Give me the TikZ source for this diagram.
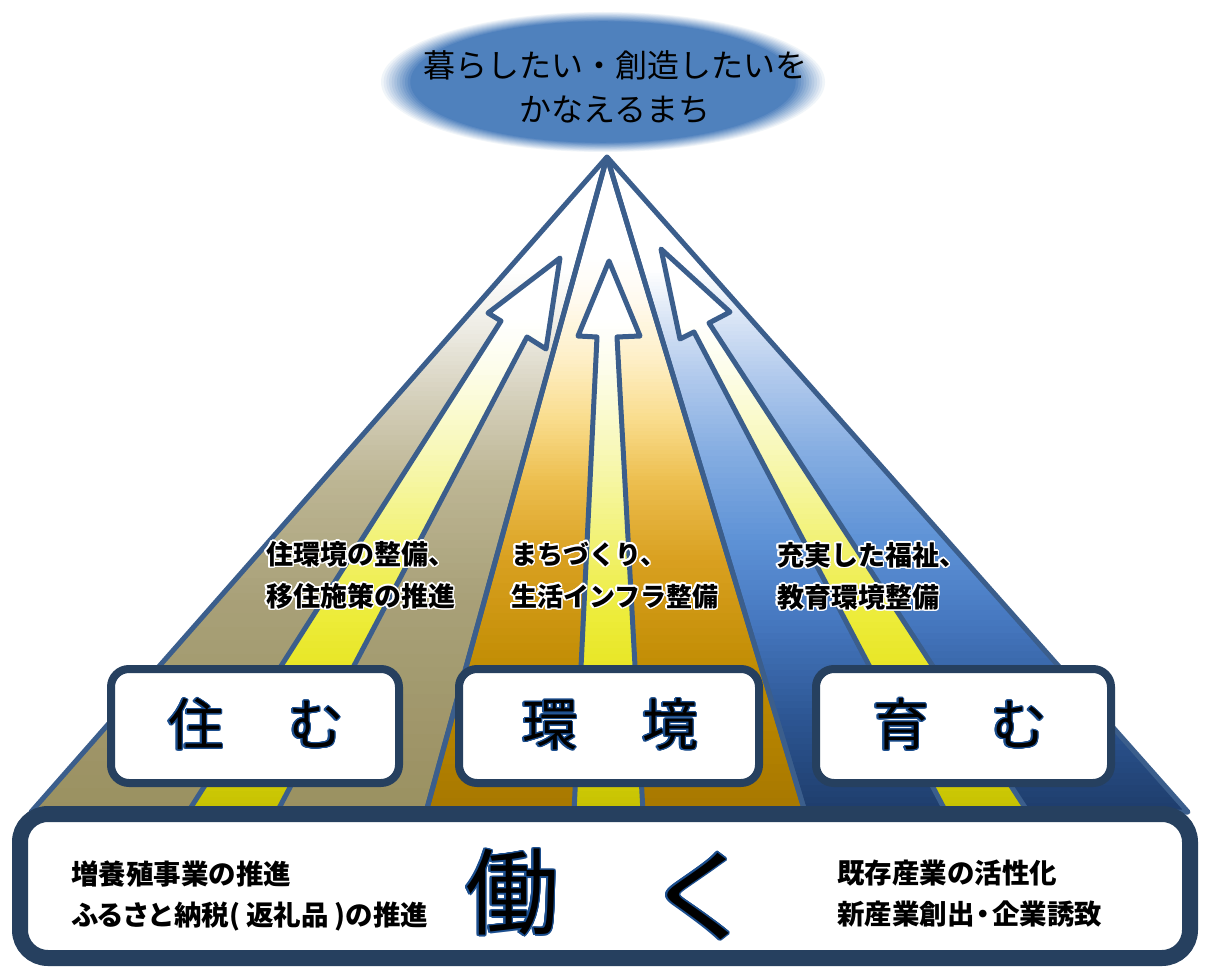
\documentclass[tikz,border=0pt]{standalone}
\usepackage{fontspec}
\setmainfont{Noto Sans CJK JP}
\usepackage{contour}
\contourlength{1.5pt}
\contournumber{20}

\definecolor{edge}{HTML}{3B5E8C}
\definecolor{navy}{HTML}{26405F}
\definecolor{topblue}{HTML}{4F81BD}
\definecolor{glowblue}{HTML}{1C4F8F}
\definecolor{khA}{HTML}{9A9060}
\definecolor{khB}{HTML}{A8A078}
\definecolor{khC}{HTML}{BDB694}
\definecolor{khD}{HTML}{D4CFBA}
\definecolor{khE}{HTML}{EDEBE3}
\definecolor{gdA}{HTML}{A67700}
\definecolor{gdB}{HTML}{BE8A00}
\definecolor{gdC}{HTML}{D9A020}
\definecolor{gdD}{HTML}{EDBF50}
\definecolor{gdE}{HTML}{F9DC8C}
\definecolor{gdF}{HTML}{FEEFC6}
\definecolor{gdG}{HTML}{FFFAEF}
\definecolor{blA}{HTML}{1E3C6A}
\definecolor{blB}{HTML}{2C5592}
\definecolor{blC}{HTML}{4678C0}
\definecolor{blD}{HTML}{5E92D6}
\definecolor{blE}{HTML}{86AEE2}
\definecolor{blF}{HTML}{AFC8EC}
\definecolor{blG}{HTML}{D8E4F5}
\definecolor{ywA}{HTML}{C4BF00}
\definecolor{ywB}{HTML}{E2DF12}
\definecolor{ywC}{HTML}{EDEC3A}
\definecolor{ywD}{HTML}{F2F27A}
\definecolor{ywE}{HTML}{F8F8B8}
\definecolor{ywF}{HTML}{FDFDEA}

% banded vertical gradient: from pixel row #1 (colour #3) to row #2 (colour #4)
\newcommand{\gseg}[4]{%
  \foreach \k in {0,...,15}{%
    \pgfmathsetmacro\gya{#1+(#2-#1)*\k/16}%
    \pgfmathsetmacro\gyb{#1+(#2-#1)*(\k+1)/16+0.8}%
    \pgfmathsetmacro\gpc{100*(\k+0.5)/16}%
    \fill[#4!\gpc!#3] (0,-\gya) rectangle (1208,-\gyb);%
  }%
}
\newcommand{\yellowgrad}{%
  \gseg{230}{320}{white}{white}%
  \gseg{320}{370}{white}{ywF}%
  \gseg{370}{450}{ywF}{ywE}%
  \gseg{450}{535}{ywE}{ywD}%
  \gseg{535}{615}{ywD}{ywC}%
  \gseg{615}{720}{ywC}{ywB}%
  \gseg{720}{815}{ywB}{ywA}%
}

\newcommand{\glowblue}[1]{\contour{glowblue}{#1}}
\newcommand{\halo}[1]{\contour{white}{#1}}

\tikzset{
  sect/.style={draw=edge, line width=5pt, line join=round},
  labelbox/.style={draw=navy, line width=8pt, fill=white, rounded corners=18pt,
    minimum height=114pt, inner sep=0pt},
  bottombox/.style={draw=navy, line width=16pt, fill=white, rounded corners=28pt,
    minimum width=1170pt, minimum height=144pt, inner sep=0pt},
  bigchar/.style={font=\fontsize{56}{56}\selectfont, inner sep=0pt},
  secttext/.style={font=\bfseries\fontsize{27}{42}\selectfont, align=left, anchor=west, inner sep=0pt},
  basetext/.style={font=\bfseries\fontsize{27.5}{41}\selectfont, align=left, anchor=west, inner sep=0pt},
  goaltext/.style={font=\fontsize{32}{44}\selectfont, align=center, inner sep=0pt},
  worktext/.style={font=\fontsize{94}{94}\selectfont, inner sep=0pt}
}

\begin{document}
\begin{tikzpicture}[x=1pt,y=1pt]
\useasboundingbox (0,0) rectangle (1208,-968);
\fill[white] (0,0) rectangle (1208,-968);

% goal ellipse (soft edge)
\foreach \k in {0,...,11}{%
  \pgfmathsetmacro\es{1-0.012*\k}%
  \pgfmathsetmacro\ep{(\k+1)*100/12}%
  \fill[topblue!\ep!white] (603,-82) ellipse [x radius={222pt*\es}, y radius={70pt*\es}];
}
\node[goaltext] (goal) at (615,-87) {暮らしたい・創造したいを\\かなえるまち};

% sections
\coordinate (apex) at (607,-157);
\coordinate (bl) at (31,-812);
\coordinate (bcl) at (426,-812);
\coordinate (bcr) at (805,-812);
\coordinate (br) at (1188,-812);

\begin{scope}
  \clip (apex) -- (bl) -- (bcl) -- cycle;
  \gseg{150}{270}{white}{white}
  \gseg{270}{330}{white}{khE}
  \gseg{330}{400}{khE}{khD}
  \gseg{400}{480}{khD}{khC}
  \gseg{480}{600}{khC}{khB}
  \gseg{600}{815}{khB}{khA}
\end{scope}
\begin{scope}
  \clip (apex) -- (bcl) -- (bcr) -- cycle;
  \gseg{150}{260}{white}{white}
  \gseg{260}{300}{white}{gdG}
  \gseg{300}{360}{gdG}{gdF}
  \gseg{360}{420}{gdF}{gdE}
  \gseg{420}{480}{gdE}{gdD}
  \gseg{480}{560}{gdD}{gdC}
  \gseg{560}{680}{gdC}{gdB}
  \gseg{680}{815}{gdB}{gdA}
\end{scope}
\begin{scope}
  \clip (apex) -- (bcr) -- (br) -- cycle;
  \gseg{150}{270}{white}{white}
  \gseg{270}{320}{white}{blG}
  \gseg{320}{380}{blG}{blF}
  \gseg{380}{450}{blF}{blE}
  \gseg{450}{540}{blE}{blD}
  \gseg{540}{620}{blD}{blC}
  \gseg{620}{720}{blC}{blB}
  \gseg{720}{815}{blB}{blA}
\end{scope}
\draw[sect] (apex) -- (bl) -- (bcl) -- cycle;
\draw[sect] (apex) -- (bcl) -- (bcr) -- cycle;
\draw[sect] (apex) -- (bcr) -- (br) -- cycle;

% arrows
\begin{scope}
  \clip (188,-812) -- (501,-321) -- (488,-313) -- (560,-258) -- (546,-349) -- (527,-337) -- (277,-812) -- cycle;
  \yellowgrad
\end{scope}
\draw[sect] (188,-812) -- (501,-321) -- (488,-313) -- (560,-258) -- (546,-349) -- (527,-337) -- (277,-812) -- cycle;
\begin{scope}
  \clip (574,-812) -- (597,-337) -- (578,-336) -- (609,-261) -- (640,-336) -- (617,-337) -- (643,-812) -- cycle;
  \yellowgrad
\end{scope}
\draw[sect] (574,-812) -- (597,-337) -- (578,-336) -- (609,-261) -- (640,-336) -- (617,-337) -- (643,-812) -- cycle;
\begin{scope}
  \clip (946,-812) -- (694,-332) -- (680,-339) -- (661,-249) -- (730,-312) -- (709,-323) -- (1028,-812) -- cycle;
  \yellowgrad
\end{scope}
\draw[sect] (946,-812) -- (694,-332) -- (680,-339) -- (661,-249) -- (730,-312) -- (709,-323) -- (1028,-812) -- cycle;

% section texts
\node[secttext] (t1) at (266,-576) {\halo{住環境の整備、}\\\halo{移住施策の推進}};
\node[secttext, font=\bfseries\fontsize{26}{42}\selectfont] (t2) at (511,-576) {\halo{まちづくり、}\\\halo{生活インフラ整備}};
\node[secttext] (t3) at (777,-577) {\halo{充実した福祉、}\\\halo{教育環境整備}};

% label boxes
\node[labelbox, minimum width=288pt] (sumu) at (255,-726) {};
\node[labelbox, minimum width=300pt] (kankyo) at (609,-726) {};
\node[labelbox, minimum width=295pt] (hagukumu) at (963.5,-726) {};
\contourlength{1.1pt}
\node[bigchar] (sumuT) at (256,-725) {\glowblue{住}\hspace{64pt}\glowblue{む}};
\node[bigchar] (kankyoT) at (610,-725) {\glowblue{環}\hspace{64pt}\glowblue{境}};
\node[bigchar] (hagukumuT) at (960,-725) {\glowblue{育}\hspace{62pt}\glowblue{む}};

% bottom box
\node[bottombox] (base) at (605,-886) {};
\contourlength{1.4pt}
\node[worktext] (work) at (512,-893) {\glowblue{働}};
\node[worktext, font=\fontsize{100}{100}\selectfont] (ku) at (702,-897) {\scalebox{1.18}[1]{\glowblue{く}}};
\node[basetext] (b1) at (71,-896) {増養殖事業の推進\\ふ\kern-2ptる\kern-2ptさ\kern-2ptと\kern-1pt納税(\kern6pt 返礼品\kern6pt)の推進};
\node[basetext] (b2) at (837,-894) {既存産業の活性化\\新産業創出\kern-5pt・\kern-5pt企業誘致};
\end{tikzpicture}
\end{document}
